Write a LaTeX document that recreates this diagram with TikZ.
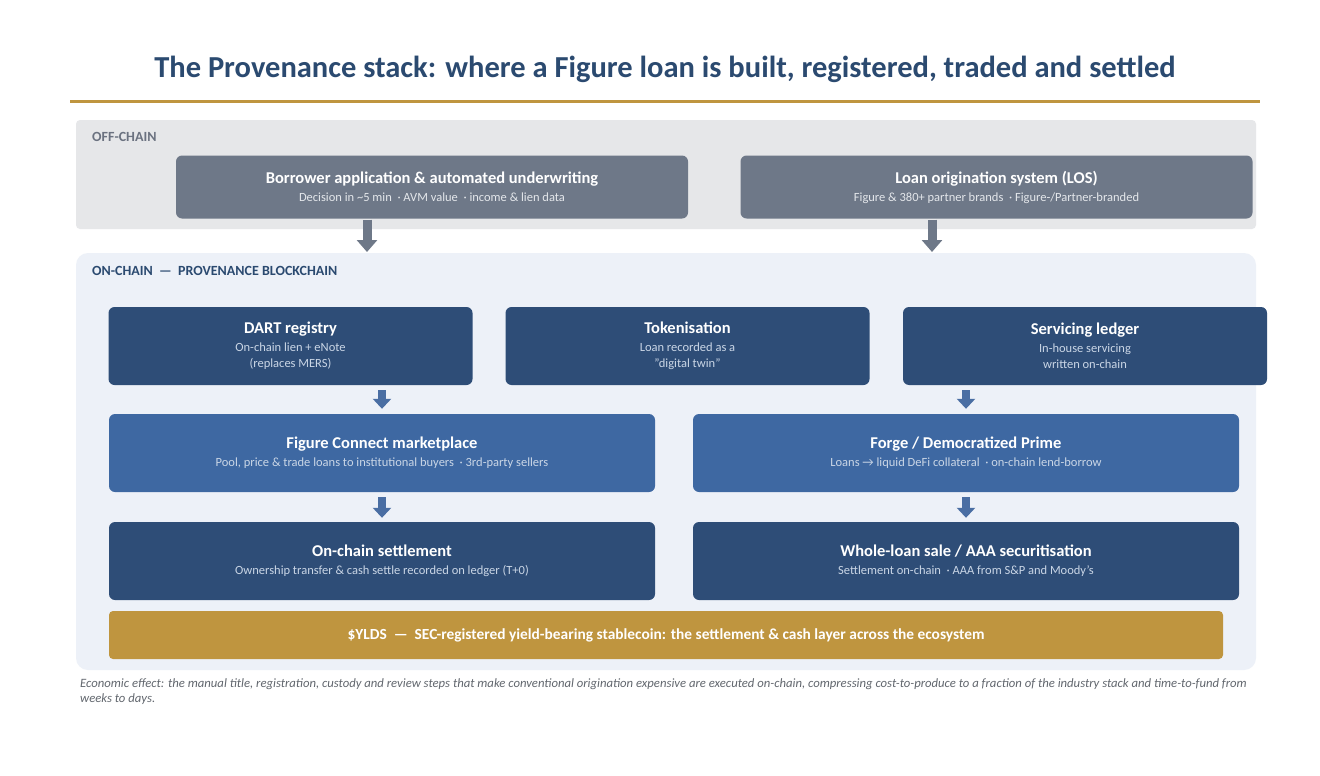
\documentclass[tikz,border=0pt]{standalone}
\usepackage{fontspec}
\setmainfont{Carlito}
\usetikzlibrary{arrows.meta}
\definecolor{titleblue}{HTML}{2B4A70}
\definecolor{goldc}{HTML}{BF953F}
\definecolor{offpanel}{HTML}{E6E7E9}
\definecolor{onpanel}{HTML}{EDF1F8}
\definecolor{grayboxc}{HTML}{6E7888}
\definecolor{navyc}{HTML}{2E4D77}
\definecolor{midc}{HTML}{3E68A2}
\definecolor{arrowblue}{HTML}{4A6EA3}
\definecolor{subnavy}{HTML}{CAD6E6}
\definecolor{subgray}{HTML}{E4E7EB}
\definecolor{labelgray}{HTML}{6B7280}
\definecolor{footgray}{HTML}{62676E}
\newcommand{\ct}[1]{{\fontsize{16.5}{19}\selectfont\bfseries\color{white}#1}}
\begin{document}
\begin{tikzpicture}[x=1pt,y=-1pt,
  panel/.style={draw=none, inner sep=0pt},
  card/.style={draw=none, rounded corners=6pt, inner sep=0pt, align=center, text=subnavy,
    font=\fontsize{12.5}{16}\selectfont},
  grayc/.style={card, text=subgray, fill=grayboxc, minimum width=512pt, minimum height=63pt},
  navyr/.style={card, fill=navyc, minimum width=364pt, minimum height=78pt},
  wider/.style={card, fill=#1, minimum width=546pt, minimum height=78pt},
  grayarrow/.style={draw=grayboxc, line width=9pt, -{Triangle[width=20pt,length=12pt]}},
  bluearrow/.style={draw=arrowblue, line width=8pt, -{Triangle[width=18pt,length=10pt]}},
  seclabel/.style={anchor=west, inner sep=0pt, font=\fontsize{14}{16}\selectfont\bfseries}
]
\useasboundingbox[fill=white] (0,0) rectangle (1320,776);

\node[font=\fontsize{30.5}{34}\selectfont\bfseries, text=titleblue] (title) at (665,69)
  {The Provenance stack: where a Figure loan is built, registered, traded and settled};
\draw[goldc, line width=3pt] (70,101) -- (1260,101);

% panels
\node[panel, fill=offpanel, rounded corners=4pt, minimum width=1180pt, minimum height=109pt] (off) at (666,174.5) {};
\node[seclabel, text=labelgray] (offl) at (92,137) {OFF-CHAIN};
\node[panel, fill=onpanel, rounded corners=12pt, minimum width=1180pt, minimum height=417pt] (on) at (666,461.5) {};
\node[seclabel, text=titleblue] (onl) at (92,271) {ON-CHAIN \ --- \ PROVENANCE BLOCKCHAIN};

% off-chain boxes
\node[grayc] (bor) at (432,187) {\ct{Borrower application \& automated underwriting}\\[2pt]Decision in \textasciitilde 5 min \ ·\ AVM value \ ·\ income \& lien data};
\node[grayc] (los) at (996.5,187) {\ct{Loan origination system (LOS)}\\[2pt]Figure \& 380+ partner brands \ ·\ Figure-/Partner-branded};

\coordinate (e1) at (367,252);
\coordinate (e2) at (932,252);
\draw[grayarrow] ([yshift=-1pt]bor.south -| e1) -- (e1);
\draw[grayarrow] ([yshift=-1pt]los.south -| e2) -- (e2);

% row 1
\node[navyr] (dart) at (290.5,346) {\ct{DART registry}\\[2pt]On-chain lien + eNote\\(replaces MERS)};
\node[navyr] (tok) at (687.5,346) {\ct{Tokenisation}\\[2pt]Loan recorded as a\\"digital twin"};
\node[navyr] (serv) at (1085,346) {\ct{Servicing ledger}\\[2pt]In-house servicing\\written on-chain};

% row 2
\node[wider=midc] (fc) at (382,453) {\ct{Figure Connect marketplace}\\[2pt]Pool, price \& trade loans to institutional buyers \ ·\ 3rd-party sellers};
\node[wider=midc] (forge) at (966,453) {\ct{Forge / Democratized Prime}\\[2pt]Loans → liquid DeFi collateral \ ·\ on-chain lend-borrow};

% row 3
\node[wider=navyc] (set) at (382,561) {\ct{On-chain settlement}\\[2pt]Ownership transfer \& cash settle recorded on ledger (T+0)};
\node[wider=navyc] (whole) at (966,561) {\ct{Whole-loan sale / AAA securitisation}\\[2pt]Settlement on-chain \ ·\ AAA from S\&P and Moody’s};

\draw[bluearrow] ([yshift=-5pt]dart.south -| fc.north) -- ([yshift=5pt]fc.north);
\draw[bluearrow] ([yshift=-5pt]serv.south -| forge.north) -- ([yshift=5pt]forge.north);
\draw[bluearrow] ([yshift=-5pt]fc.south) -- ([yshift=4pt]set.north);
\draw[bluearrow] ([yshift=-5pt]forge.south) -- ([yshift=4pt]whole.north);

% gold bar
\node[card, text=white, fill=goldc, rounded corners=4pt, minimum width=1114pt, minimum height=48pt, font=\fontsize{15.4}{17}\selectfont\bfseries] (ylds) at (666,635)
  {\$YLDS \ --- \ SEC-registered yield-bearing stablecoin: the settlement \& cash layer across the ecosystem};

% footnote
\node[anchor=north west, inner sep=0pt, align=left, text=footgray, font=\fontsize{12.7}{15}\selectfont\itshape] (foot) at (80,678)
  {Economic effect: the manual title, registration, custody and review steps that make conventional origination expensive are executed on-chain, compressing cost-to-produce to a fraction of the industry stack and time-to-fund from\\weeks to days.};
\end{tikzpicture}
\end{document}
